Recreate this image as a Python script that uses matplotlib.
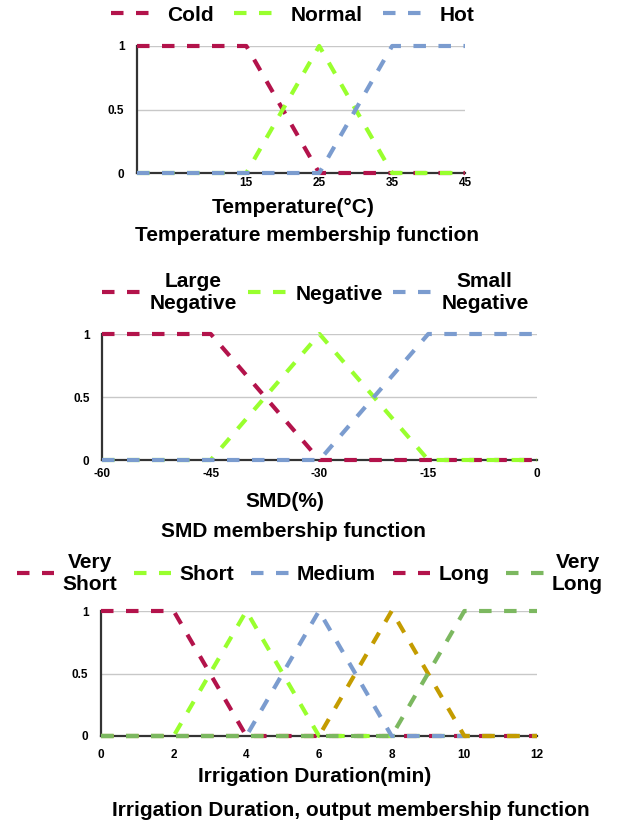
import matplotlib
matplotlib.use("Agg")
import matplotlib.pyplot as plt
from matplotlib.lines import Line2D

plt.rcParams['font.family'] = ['Liberation Sans', 'DejaVu Sans']
plt.rcParams['font.weight'] = 'bold'
plt.rcParams['axes.labelweight'] = 'bold'
plt.rcParams['axes.unicode_minus'] = False

# temperature membership functions
temp_x = [0, 15, 25, 35, 45]
temp_labels = ['Cold', 'Normal', 'Hot']
temp_cold = [1, 1, 0, 0, 0]
temp_normal = [0, 0, 1, 0, 0]
temp_hot = [0, 0, 0, 1, 1]
temp_ticks = [15, 25, 35, 45]

# soil moisture deficit
smd_x = [-60, -45, -30, -15, 0]
smd_labels = ['Large\nNegative', 'Negative', 'Small\nNegative']
smd_large_neg = [1, 1, 0, 0, 0]
smd_neg = [0, 0, 1, 0, 0]
smd_small_neg = [0, 0, 0, 1, 1]
smd_ticks = [-60, -45, -30, -15, 0]

# irrigation duration (output)
irr_x = [0, 2, 4, 6, 8, 10, 12]
irr_labels = ['Very\nShort', 'Short', 'Medium', 'Long', 'Very\nLong']
irr_very_short = [1, 1, 0, 0, 0, 0, 0]
irr_short = [0, 0, 1, 0, 0, 0, 0]
irr_medium = [0, 0, 0, 1, 0, 0, 0]
irr_long = [0, 0, 0, 0, 1, 0, 0]
irr_very_long = [0, 0, 0, 0, 0, 1, 1]
irr_ticks = [0, 2, 4, 6, 8, 10, 12]

crimson = '#b3134b'
lime = '#99ff2e'
blue = '#7b9ccf'
gold = '#c49c00'
green = '#7cb860'

temp_colors = [crimson, lime, blue]
smd_colors = [crimson, lime, blue]
irr_colors = [crimson, lime, blue, gold, green]
irr_legend_colors = [crimson, lime, blue, crimson, green]  # legend in source shows Long in red


def style_axis(ax, xlim, xticks, xpad):
    ax.set_xlim(*xlim)
    ax.set_ylim(0, 1)
    ax.set_xticks(xticks)
    ax.set_yticks([0, 0.5, 1])
    ax.set_yticklabels(['0', '0.5', '1'])
    for y in [0.5, 1]:
        ax.axhline(y, color='#c8c8c8', lw=1, zorder=1)
    for s in ['top', 'right']:
        ax.spines[s].set_visible(False)
    for s in ['left', 'bottom']:
        ax.spines[s].set_color('#333333')
        ax.spines[s].set_linewidth(1.6)
    ax.tick_params(axis='both', length=0, labelsize=8.5)
    ax.tick_params(axis='x', pad=xpad)
    ax.tick_params(axis='y', pad=9)


def draw_lines(ax, x, series, colors):
    lines = []
    for ys, c in zip(series, colors):
        ln, = ax.plot(x, ys, color=c, lw=3, dashes=(3, 3), clip_on=False, zorder=3)
        lines.append(ln)
    return lines


def make_legend(ax, labels, colors, anchor, hl, htp, cs):
    handles = [Line2D([], [], color=c, lw=3, dashes=(3, 3)) for c in colors]
    leg = ax.legend(handles, labels, loc='center', bbox_to_anchor=anchor, ncol=len(labels),
                    frameon=False, fontsize=15, handlelength=hl, handletextpad=htp,
                    columnspacing=cs, borderaxespad=0)
    for t in leg.get_texts():
        t.set_multialignment('center')
    return leg


fig = plt.figure(figsize=(6.23, 8.25), dpi=100)

# Temperature
ax1 = fig.add_axes([137 / 623, 1 - 173 / 825, 328 / 623, 127 / 825])
draw_lines(ax1, temp_x, [temp_cold, temp_normal, temp_hot], temp_colors)
style_axis(ax1, (0, 45), temp_ticks, 3)
make_legend(ax1, temp_labels, temp_colors, (0.474, 1.244), 2.0, 0.7, 1.0)
ax1.set_xlabel('Temperature(°C)', fontsize=15)
ax1.xaxis.set_label_coords(0.476, -0.268)
ax1.xaxis.label.set_va('center')
ax1.text(0.518, -0.496, 'Temperature membership function', transform=ax1.transAxes,
         ha='center', va='center', fontsize=15)

# SMD
ax2 = fig.add_axes([102 / 623, 1 - 460 / 825, 435 / 623, 126 / 825])
draw_lines(ax2, smd_x, [smd_large_neg, smd_neg, smd_small_neg], smd_colors)
style_axis(ax2, (-60, 0), smd_ticks, 6)
make_legend(ax2, smd_labels, smd_colors, (0.49, 1.333), 1.9, 0.4, 0.5)
ax2.set_xlabel('SMD(%)', fontsize=15)
ax2.xaxis.set_label_coords(0.421, -0.333)
ax2.xaxis.label.set_va('center')
ax2.text(0.439, -0.571, 'SMD membership function', transform=ax2.transAxes,
         ha='center', va='center', fontsize=15)

# Irrigation duration
ax3 = fig.add_axes([101 / 623, 1 - 736 / 825, 436 / 623, 125 / 825])
draw_lines(ax3, irr_x, [irr_very_short, irr_short, irr_medium, irr_long, irr_very_long], irr_colors)
style_axis(ax3, (0, 12), irr_ticks, 9)
make_legend(ax3, irr_labels, irr_legend_colors, (0.479, 1.304), 1.8, 0.4, 0.8)
ax3.set_xlabel('Irrigation Duration(min)', fontsize=15)
ax3.xaxis.set_label_coords(0.491, -0.328)
ax3.xaxis.label.set_va('center')
ax3.text(0.573, -0.6, 'Irrigation Duration, output membership function', transform=ax3.transAxes,
         ha='center', va='center', fontsize=15)

fig.savefig('out.png', dpi=100)
